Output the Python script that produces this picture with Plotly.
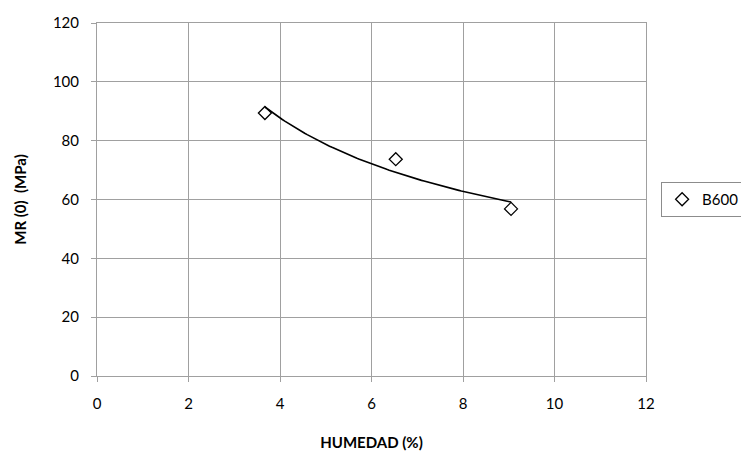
import numpy as np
import plotly.graph_objects as go

# Data
humedad = [3.67, 6.53, 9.05]
mr0 = [89.4, 73.7, 56.8]
series_name = "B600"
x_ticks = [0, 2, 4, 6, 8, 10, 12]
y_ticks = [0, 20, 40, 60, 80, 100, 120]

# Power trendline (Excel style) fitted to the data
lx = np.log(humedad)
ly = np.log(mr0)
b, lna = np.polyfit(lx, ly, 1)
xt = np.linspace(min(humedad), max(humedad), 100)
yt = np.exp(lna) * xt ** b

fig = go.Figure()
fig.add_trace(go.Scatter(
    x=humedad, y=mr0, mode="markers", name=series_name,
    marker=dict(symbol="diamond-open", size=10, color="black", line=dict(width=1.3, color="black")),
))
fig.add_trace(go.Scatter(
    x=xt, y=yt, mode="lines", showlegend=False,
    line=dict(color="black", width=1.6), hoverinfo="skip",
))

grid = "#A0A0A0"
font = "Lato, 'Open Sans', sans-serif"
fig.update_layout(
    width=749, height=470,
    margin=dict(l=89, r=79, t=15, b=102),
    paper_bgcolor="white", plot_bgcolor="white",
    font=dict(family=font, size=15, color="black"),
    legend=dict(x=1.0275, y=0.5, xanchor="left", yanchor="middle",
                bordercolor="#8C8C8C", borderwidth=1, font=dict(size=15),
                itemwidth=30),
    xaxis=dict(range=[0, 12], tickvals=x_ticks, showgrid=True, gridcolor=grid, gridwidth=1,
               showline=True, linecolor=grid, linewidth=1, mirror=True,
               ticks="outside", ticklen=5, tickcolor=grid, zeroline=False,
               ticklabelstandoff=9, automargin=False,
               title=dict(text="<b>HUMEDAD (%)</b>", font=dict(size=15), standoff=26)),
    yaxis=dict(range=[0, 120], tickvals=y_ticks, showgrid=True, gridcolor=grid, gridwidth=1,
               showline=True, linecolor=grid, linewidth=1, mirror=True,
               ticks="outside", ticklen=5, tickcolor=grid, zeroline=False,
               ticklabelstandoff=9, automargin=False,
               title=dict(text="<b>MR (0)  (MPa)</b>", font=dict(size=15), standoff=22)),
)

fig.write_html("out.html")
